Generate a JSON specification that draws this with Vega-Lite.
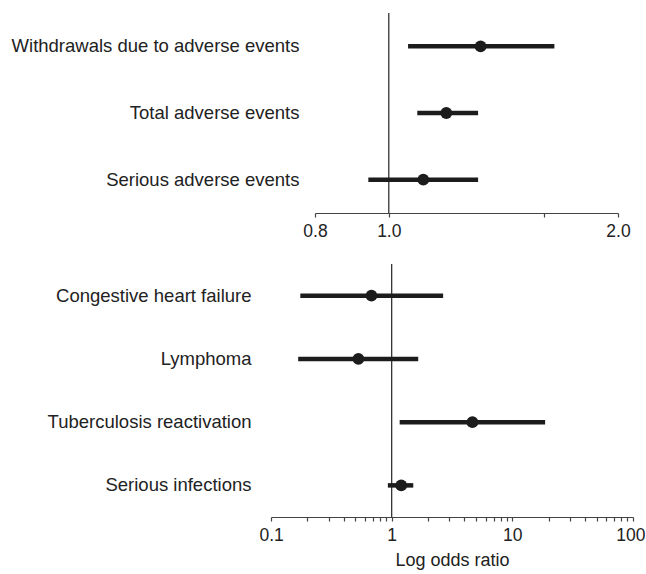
{
  "$schema": "https://vega.github.io/schema/vega-lite/v6.json",
  "padding": {"left": 0, "top": 12, "right": 0, "bottom": 0},
  "background": "white",
  "config": {
    "view": {"stroke": null},
    "font": "Liberation Sans",
    "axis": {
      "grid": false,
      "domainColor": "#444",
      "domainWidth": 1.2,
      "tickColor": "#444",
      "tickWidth": 1.2,
      "tickSize": 4,
      "labelColor": "#222",
      "labelFont": "Liberation Sans",
      "titleFont": "Liberation Sans",
      "titleColor": "#222"
    }
  },
  "datasets": {
    "safety": [
      {"outcome": "Withdrawals due to adverse events", "or": 1.32, "lo": 1.06, "hi": 1.65},
      {"outcome": "Total adverse events", "or": 1.19, "lo": 1.09, "hi": 1.31},
      {"outcome": "Serious adverse events", "or": 1.11, "lo": 0.94, "hi": 1.31}
    ],
    "harms": [
      {"outcome": "Congestive heart failure", "or": 0.68, "lo": 0.175, "hi": 2.67},
      {"outcome": "Lymphoma", "or": 0.53, "lo": 0.168, "hi": 1.66},
      {"outcome": "Tuberculosis reactivation", "or": 4.67, "lo": 1.165, "hi": 18.7},
      {"outcome": "Serious infections", "or": 1.2, "lo": 0.93, "hi": 1.51}
    ],
    "reference": [{"ref": 1}]
  },
  "spacing": 23,
  "vconcat": [
    {
      "width": 347,
      "height": 200,
      "layer": [
        {
          "data": {"name": "reference"},
          "mark": {"type": "rule", "color": "#333", "strokeWidth": 1.3},
          "encoding": {
            "x": {
              "field": "ref",
              "type": "quantitative",
              "scale": {"type": "log", "domain": [0.8, 2], "nice": false, "range": [44, 347]},
              "axis": {
                "title": null,
                "values": [0.8, 1, 1.6, 2],
                "labelExpr": "datum.value == 1.6 ? '' : format(datum.value, '.1f')",
                "labelFlush": false,
                "labelOverlap": false,
                "labelFontSize": 17.5,
                "labelPadding": 5
              }
            }
          }
        },
        {
          "data": {"name": "safety"},
          "mark": {"type": "rule", "color": "#1c1c1c", "strokeWidth": 4.5, "strokeCap": "butt"},
          "encoding": {
            "y": {
              "field": "outcome",
              "type": "nominal",
              "sort": null,
              "axis": {
                "title": null,
                "domain": false,
                "ticks": false,
                "labelFontSize": 18.5,
                "labelPadding": -28,
                "labelLimit": 400
              }
            },
            "x": {"field": "lo", "type": "quantitative"},
            "x2": {"field": "hi"}
          }
        },
        {
          "data": {"name": "safety"},
          "mark": {"type": "circle", "color": "#1c1c1c", "opacity": 1, "size": 140},
          "encoding": {
            "y": {"field": "outcome", "type": "nominal", "sort": null},
            "x": {"field": "or", "type": "quantitative"}
          }
        }
      ]
    },
    {
      "width": 362,
      "height": 253,
      "layer": [
        {
          "data": {"name": "reference"},
          "mark": {"type": "rule", "color": "#333", "strokeWidth": 1.3},
          "encoding": {
            "x": {
              "field": "ref",
              "type": "quantitative",
              "scale": {"type": "log", "domain": [0.1, 100], "nice": false},
              "axis": {
                "title": "Log odds ratio",
                "titleFontSize": 18,
                "titleFontWeight": "normal",
                "titlePadding": 8,
                "values": [0.1, 0.2, 0.3, 0.4, 0.5, 0.6, 0.7, 0.8, 0.9, 1, 2, 3, 4, 5, 6, 7, 8, 9, 10, 20, 30, 40, 50, 60, 70, 80, 90, 100],
                "labelExpr": "indexof([0.1, 1, 10, 100], datum.value) >= 0 ? format(datum.value, '~g') : ''",
                "labelFlush": true,
                "labelFlushOffset": 12,
                "labelOverlap": false,
                "labelFontSize": 17.5,
                "labelPadding": 5
              }
            }
          }
        },
        {
          "data": {"name": "harms"},
          "mark": {"type": "rule", "color": "#1c1c1c", "strokeWidth": 4.5, "strokeCap": "butt"},
          "encoding": {
            "y": {
              "field": "outcome",
              "type": "nominal",
              "sort": null,
              "axis": {
                "title": null,
                "domain": false,
                "ticks": false,
                "labelFontSize": 18.5,
                "labelPadding": 20,
                "labelLimit": 400,
                "minExtent": 271,
                "maxExtent": 271
              }
            },
            "x": {"field": "lo", "type": "quantitative"},
            "x2": {"field": "hi"}
          }
        },
        {
          "data": {"name": "harms"},
          "mark": {"type": "circle", "color": "#1c1c1c", "opacity": 1, "size": 140},
          "encoding": {
            "y": {"field": "outcome", "type": "nominal", "sort": null},
            "x": {"field": "or", "type": "quantitative"}
          }
        }
      ]
    }
  ]
}
